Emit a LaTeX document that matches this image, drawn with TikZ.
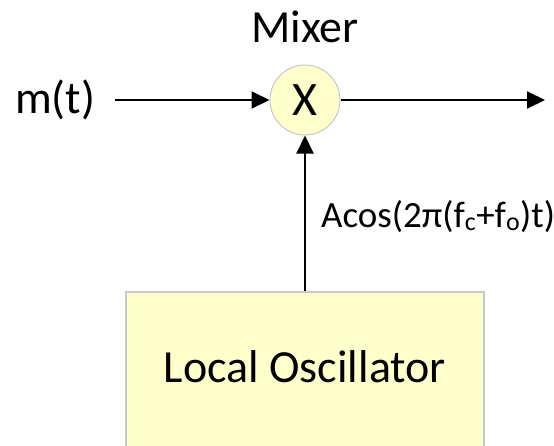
\documentclass[tikz,border=0pt]{standalone}
\usepackage{fontspec}
\setmainfont{Carlito}
\usetikzlibrary{arrows.meta}
\definecolor{paleyellow}{HTML}{FFFFCC}
\definecolor{edgegray}{HTML}{C8C8C8}

\begin{document}
\begin{tikzpicture}[x=1pt,y=-1pt,
  mixstyle/.style={circle,draw=edgegray,line width=1pt,fill=paleyellow,minimum size=70pt,inner sep=0pt},
  boxstyle/.style={rectangle,draw=edgegray,line width=1.5pt,fill=paleyellow,minimum width=358pt,minimum height=160pt,anchor=north},
  arrowstyle/.style={line width=2pt,-{Triangle[length=18pt,width=17pt]}}]
 \useasboundingbox (0,0) rectangle (554,445);

 \node [mixstyle] (mix) at (305,100) {\fontsize{48}{52}\selectfont X};
 \node [anchor=base] (mixer) at (305,42) {\fontsize{46}{50}\selectfont Mixer};
 \node [anchor=base west,inner sep=0pt] (mt) at (15,113) {\fontsize{46}{50}\selectfont m(t)};
 \node [boxstyle] (lo) at (305,291) {};
 \node [anchor=base] (lotext) at (305,382) {\fontsize{46}{50}\selectfont Local Oscillator};
 \node [anchor=base west,inner sep=0pt] (lolabel) at (321,227)
   {\fontsize{37}{40}\selectfont Acos(2π(f\textsubscript{c}+f\textsubscript{o})t)};
 \coordinate (out) at (545,100);

 \draw [arrowstyle] ([xshift=20pt]mt.east |- mix.west) -- (mix.west);
 \draw [arrowstyle] (mix.east) -- (out);
 \draw [arrowstyle] (lo.north) -- (mix.south);
\end{tikzpicture}
\end{document}
